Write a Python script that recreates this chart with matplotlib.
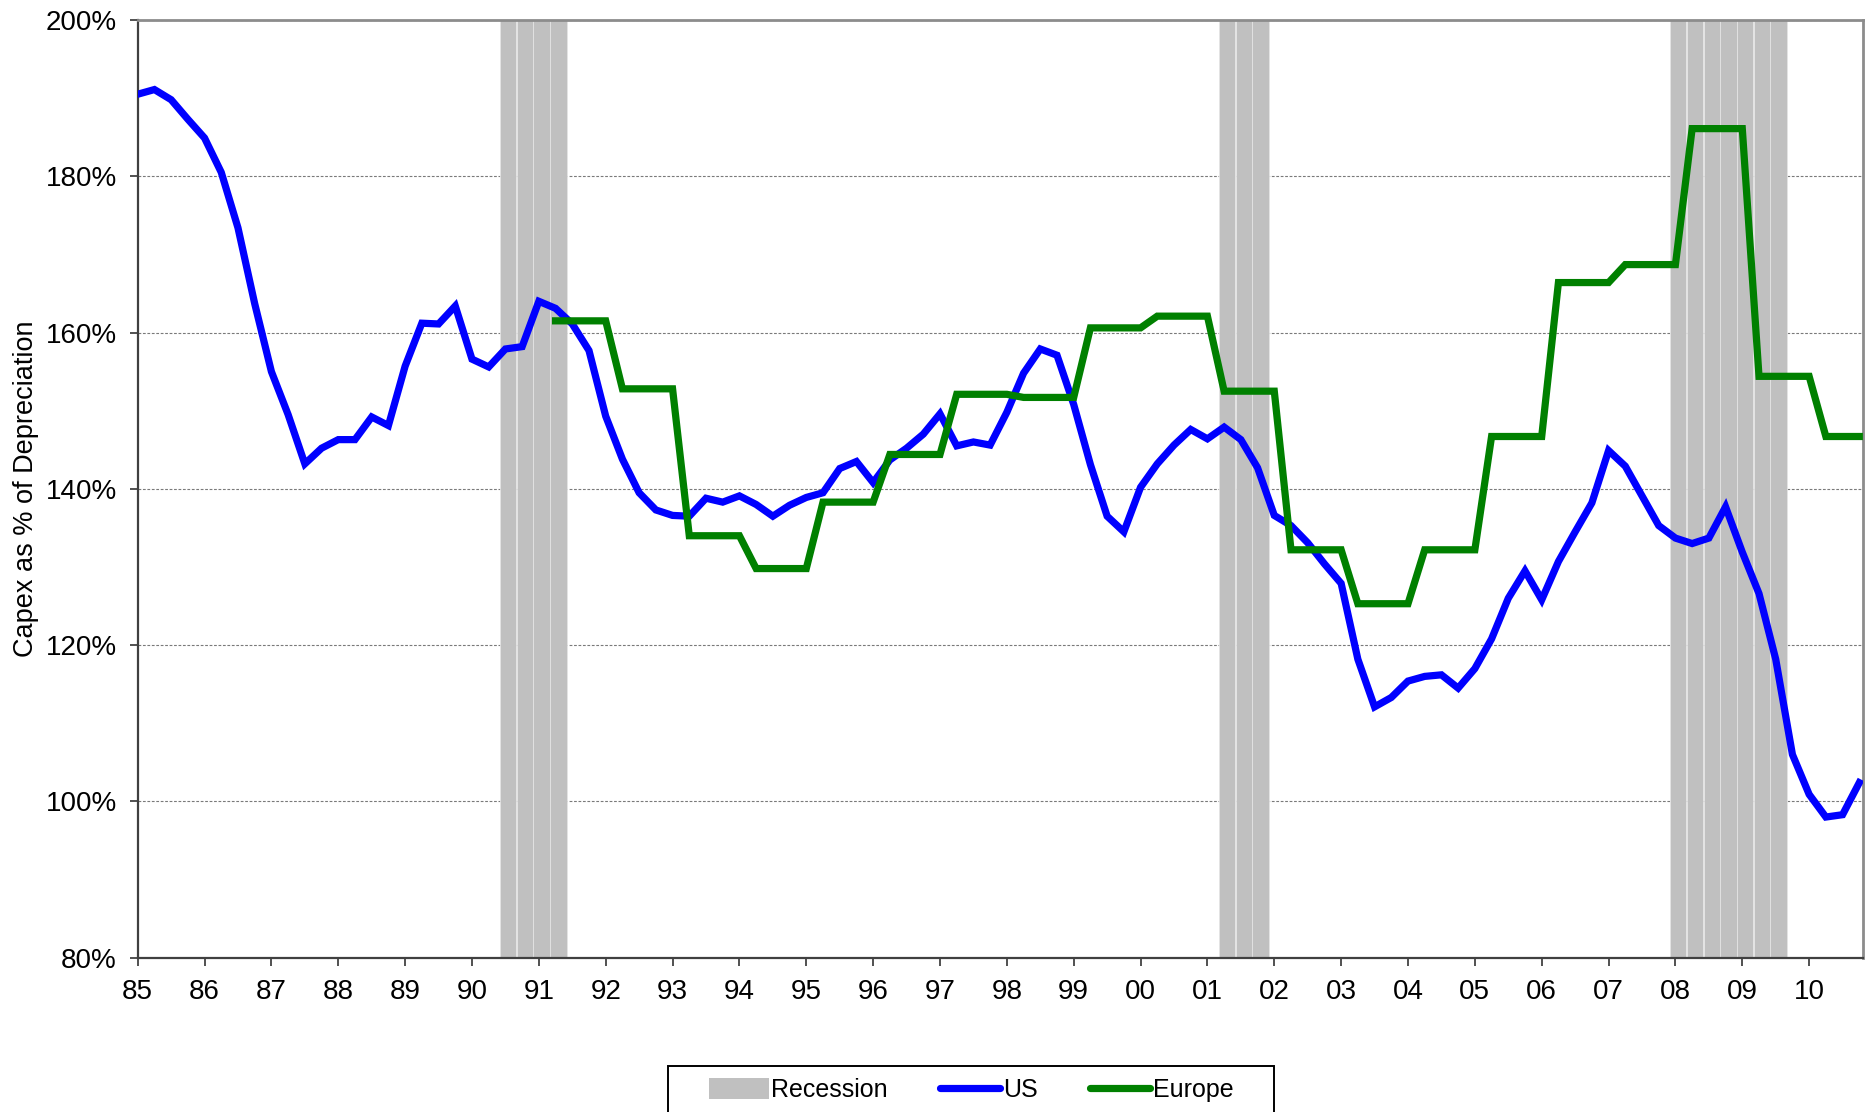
import numpy as np
import matplotlib
matplotlib.use("Agg")
import matplotlib.pyplot as plt
from matplotlib.patches import Patch, Rectangle
from matplotlib.lines import Line2D
from matplotlib.ticker import FuncFormatter, FixedLocator

plt.rcParams['font.family'] = ['Liberation Sans', 'DejaVu Sans']

# ---------------- data ----------------
start_year = 1985
us_values = [
    190.5, 191.1, 189.8, 187.3,   # 1985
    184.9, 180.5, 173.4, 163.7,   # 1986
    155.0, 149.5, 143.2, 145.2,   # 1987
    146.3, 146.3, 149.2, 148.1,   # 1988
    155.7, 161.2, 161.1, 163.4,   # 1989
    156.6, 155.6, 157.9, 158.2,   # 1990
    164.0, 163.1, 161.1, 157.7,   # 1991
    149.3, 143.8, 139.5, 137.3,   # 1992
    136.6, 136.5, 138.8, 138.3,   # 1993
    139.1, 138.0, 136.5, 137.9,   # 1994
    138.9, 139.5, 142.6, 143.5,   # 1995
    140.8, 143.7, 145.2, 147.0,   # 1996
    149.6, 145.5, 146.0, 145.6,   # 1997
    149.8, 154.8, 157.9, 157.1,   # 1998
    150.8, 143.1, 136.5, 134.5,   # 1999
    140.2, 143.2, 145.6, 147.6,   # 2000
    146.4, 147.9, 146.3, 142.7,   # 2001
    136.6, 135.3, 133.1, 130.4,   # 2002
    127.9, 118.2, 112.1, 113.3,   # 2003
    115.4, 116.0, 116.2, 114.5,   # 2004
    117.0, 120.8, 126.0, 129.5,   # 2005
    125.8, 130.7, 134.5, 138.2,   # 2006
    144.9, 142.9, 139.1, 135.3,   # 2007
    133.7, 133.0, 133.7, 137.7,   # 2008
    131.9, 126.6, 118.2, 106.0,   # 2009
    100.9, 98.0, 98.3, 102.4,     # 2010
]

europe_start = 1991.25
europe_values = [
    161.5, 161.5, 161.5,          # 1991 Q2-Q4
    161.5, 152.8, 152.8, 152.8,   # 1992
    152.8, 134.0, 134.0, 134.0,   # 1993
    134.0, 129.8, 129.8, 129.8,   # 1994
    129.8, 138.3, 138.3, 138.3,   # 1995
    138.3, 144.4, 144.4, 144.4,   # 1996
    144.4, 152.1, 152.1, 152.1,   # 1997
    152.1, 151.7, 151.7, 151.7,   # 1998
    151.7, 160.6, 160.6, 160.6,   # 1999
    160.6, 162.1, 162.1, 162.1,   # 2000
    162.1, 152.5, 152.5, 152.5,   # 2001
    152.5, 132.2, 132.2, 132.2,   # 2002
    132.2, 125.3, 125.3, 125.3,   # 2003
    125.3, 132.2, 132.2, 132.2,   # 2004
    132.2, 146.7, 146.7, 146.7,   # 2005
    146.7, 166.4, 166.4, 166.4,   # 2006
    166.4, 168.7, 168.7, 168.7,   # 2007
    168.7, 186.1, 186.1, 186.1,   # 2008
    186.1, 154.4, 154.4, 154.4,   # 2009
    154.4, 146.7, 146.7, 146.7,   # 2010
]

recession_quarters = [1990.5, 1990.75, 1991.0, 1991.25,
                      2001.25, 2001.5, 2001.75,
                      2008.0, 2008.25, 2008.5, 2008.75, 2009.0, 2009.25, 2009.5]

year_ticks = list(range(1985, 2011))
year_labels = [f"{y % 100:02d}" for y in year_ticks]
y_ticks = [80, 100, 120, 140, 160, 180, 200]

# ---------------- figure ----------------
W, H = 1871, 1112
fig = plt.figure(figsize=(W / 100, H / 100), dpi=100)
ax = fig.add_axes([137.7 / W, 1 - 957.7 / H, (1863.3 - 137.7) / W, (957.7 - 20) / H])

us_x = start_year + np.arange(len(us_values)) / 4.0
eu_x = europe_start + np.arange(len(europe_values)) / 4.0
rec = np.array(recession_quarters)

ax.set_xlim(1985, 2010.81)
ax.set_ylim(80, 200)

# grid
ax.yaxis.set_major_locator(FixedLocator(y_ticks))
ax.grid(axis='y', linestyle=(0, (2.5, 1.5)), color='#7a7a7a', linewidth=0.8, zorder=0)
ax.set_axisbelow(True)

# recession bars
ax.bar(rec - 0.08, 200, width=0.245, align='edge', bottom=0,
       color='#C0C0C0', edgecolor='#e4e4e4', linewidth=0.6, zorder=1)

# lines
ax.plot(us_x, us_values, color='#0000FF', linewidth=5.2, zorder=3, solid_joinstyle='miter')
ax.plot(eu_x, europe_values, color='#008000', linewidth=5.2, zorder=4, solid_joinstyle='miter')

# axes styling
ax.xaxis.set_major_locator(FixedLocator(year_ticks))
ax.set_xticklabels(year_labels)
ax.yaxis.set_major_formatter(FuncFormatter(lambda v, p: f"{v:.0f}%"))
ax.tick_params(axis='both', labelsize=20, direction='out', length=6, width=1.2,
               color='#333333', labelcolor='black')
ax.tick_params(axis='y', pad=9)
ax.tick_params(axis='x', pad=9)
for s in ['left', 'bottom']:
    ax.spines[s].set_color('#404040')
    ax.spines[s].set_linewidth(1.6)
for s in ['top', 'right']:
    ax.spines[s].set_color('#8c8c8c')
    ax.spines[s].set_linewidth(2.0)

ax.set_ylabel('Capex as % of Depreciation', fontsize=19.5, labelpad=5)

# legend
handles = [
    Patch(facecolor='#C0C0C0', edgecolor='none'),
    Line2D([0], [0], color='#0000FF', linewidth=5.2, solid_capstyle='round'),
    Line2D([0], [0], color='#008000', linewidth=5.2, solid_capstyle='round'),
]
labels = ['Recession', 'US', 'Europe']
fig.legend(handles, labels, loc='center', bbox_to_anchor=(971 / W, 1 - 1090 / H),
           ncol=3, frameon=False, fontsize=18, handlelength=2.4, handleheight=0.9,
           handletextpad=0.1, columnspacing=2.1)
fig.add_artist(Rectangle((668 / W, -0.05), (1274 - 668) / W, 0.05 + 1 - 1066 / H,
                         transform=fig.transFigure, facecolor='none',
                         edgecolor='black', linewidth=1.4))

fig.savefig('out.png', dpi=100)
